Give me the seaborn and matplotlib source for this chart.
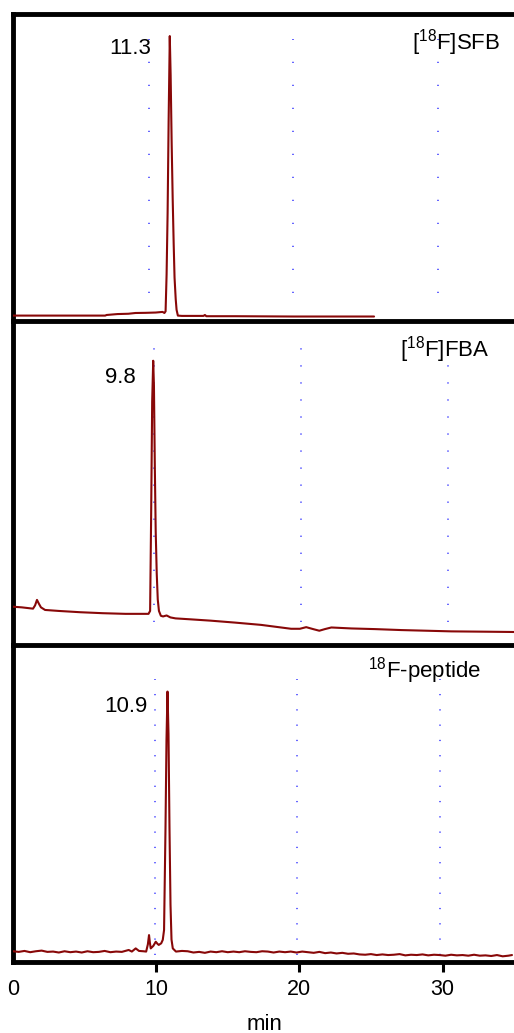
import numpy as np
import pandas as pd
import matplotlib
matplotlib.use("Agg")
import matplotlib.pyplot as plt
import seaborn as sns

# ---------------- data ----------------
# Panel 1: [18F]SFB  (time in min, signal in % of panel height)
sfb_time = [0.63, 3.0, 5.5, 7.0, 7.1, 7.85, 8.6, 9.1, 9.8, 10.5, 10.97, 11.1,
            11.18, 11.25, 11.32, 11.39, 11.47, 11.53, 11.6, 11.67, 11.74, 11.8,
            11.88, 11.94, 12.03, 12.3, 13.0, 13.8, 13.9, 14.0, 16.0, 20.0, 25.6]
sfb_signal = [1.6, 1.6, 1.6, 1.6, 1.8, 2.1, 2.2, 2.45, 2.5, 2.6, 2.8, 2.45,
              3.0, 15, 35, 65, 92.8, 80, 58, 40, 25, 14,
              7, 3.5, 1.6, 1.5, 1.5, 1.5, 1.8, 1.4, 1.4, 1.3, 1.3]

# Panel 2: [18F]FBA
fba_time = [0.40, 1.0, 1.76, 1.9, 2.03, 2.15, 2.3, 2.58, 3.5, 4.97, 6.5, 8.04,
            9.0, 9.61, 9.72, 9.79, 9.86, 9.93, 9.98, 10.04, 10.1, 10.17, 10.24,
            10.32, 10.45, 10.6, 10.84, 11.1, 11.45, 12.5, 13.84, 15.5, 17.26,
            19.3, 19.9, 20.33, 20.8, 21.22, 21.6, 22.04, 23.4, 25.0, 26.8,
            28.5, 30.2, 32.5, 34.6]
fba_signal = [11.8, 11.6, 11.2, 12.2, 13.9, 12.8, 11.6, 10.8, 10.5, 10.1, 9.8, 9.6,
              9.6, 9.6, 10.5, 40, 75, 87.6, 80, 55, 35, 22, 14,
              10.5, 9.0, 8.8, 9.1, 8.5, 8.2, 7.9, 7.5, 6.9, 6.2,
              5.0, 5.0, 5.5, 4.9, 4.4, 4.9, 5.4, 5.1, 4.9, 4.6,
              4.4, 4.2, 4.1, 4.0]

# Panel 3: 18F-peptide
pep_time = [0.0, 0.4, 0.8, 1.2, 1.6, 2.0, 2.4, 2.8, 3.2, 3.6, 4.0, 4.4, 4.8,
            5.2, 5.6, 6.0, 6.4, 6.8, 7.2, 7.6, 8.08, 8.3, 8.57, 8.8, 9.1, 9.3,
            9.42, 9.5, 9.56, 9.62, 9.8, 9.97, 10.1, 10.18, 10.35, 10.46, 10.55,
            10.65, 10.72, 10.79, 10.86, 10.93, 11.0, 11.07, 11.16, 11.38, 11.8,
            12.2, 12.6, 13.0, 13.4, 13.8, 14.2, 14.6, 15.0, 15.4, 15.8, 16.2,
            16.6, 17.0, 17.4, 17.8, 18.2, 18.6, 19.0, 19.4, 19.8, 20.2, 20.6,
            21.0, 21.4, 21.8, 22.2, 22.6, 23.0, 23.4, 23.8, 24.2, 24.6, 25.0,
            25.4, 25.8, 26.2, 26.6, 27.0, 27.4, 27.8, 28.2, 28.6, 29.0, 29.4,
            29.8, 30.2, 30.6, 31.0, 31.4, 31.8, 32.2, 32.6, 33.0, 33.4, 33.8,
            34.2, 34.6, 34.85]
pep_signal = [3.3, 3.1, 3.4, 3.0, 3.3, 3.5, 3.1, 3.2, 2.9, 3.3, 3.0, 3.2, 2.9,
              3.3, 3.0, 3.1, 3.4, 3.0, 3.2, 3.1, 3.7, 3.2, 4.2, 3.4, 3.3, 3.2,
              5.5, 8.4, 6.0, 4.2, 5.0, 6.3, 5.6, 5.3, 5.8, 6.9, 10,
              42, 70, 85.3, 72, 42, 18, 7, 4.2, 3.2, 3.4,
              3.3, 2.9, 3.1, 2.8, 3.2, 3.0, 3.3, 3.0, 3.2, 3.0, 3.3,
              3.1, 3.0, 3.3, 3.2, 2.9, 3.2, 3.0, 3.2, 2.9, 3.2, 3.0,
              2.8, 3.1, 2.7, 2.9, 2.6, 2.8, 2.5, 2.6, 2.3, 2.2, 2.4,
              2.1, 2.3, 2.1, 2.2, 2.4, 2.0, 2.2, 2.1, 2.3, 2.0, 2.2,
              2.1, 1.9, 2.2, 2.0, 2.1, 1.9, 2.2, 1.9, 2.0, 1.8, 2.1,
              1.7, 1.9, 2.1]

panel_names = [r"[$\mathregular{^{18}}$F]SFB", r"[$\mathregular{^{18}}$F]FBA",
               r"$\mathregular{^{18}}$F-peptide"]
peak_labels = ["11.3", "9.8", "10.9"]
x_ticks = [0, 10, 20, 30]
x_ticklabels = ["0", "10", "20", "30"]
x_label = "min"

# ---------------- style ----------------
sns.set_style("white")
plt.rcParams["font.family"] = ["Liberation Sans", "DejaVu Sans"]
plt.rcParams["mathtext.fontset"] = "custom"
plt.rcParams["mathtext.rm"] = "Liberation Sans"
plt.rcParams["lines.scale_dashes"] = False
plt.rcParams["text.color"] = "black"
plt.rcParams["axes.labelcolor"] = "black"
plt.rcParams["xtick.color"] = "black"

W, H = 514, 1033
fig = plt.figure(figsize=(W / 100, H / 100), dpi=100)

def px_axes(left, top, right, bottom):
    return fig.add_axes([left / W, 1 - bottom / H, (right - left) / W, (bottom - top) / H])

# panel geometry (pixels)
panels = [
    dict(top=14.0, bottom=320.5, xlim=(0.625, 35.42), grid=[10, 20, 30],
         gy=(293.0, 40.0, 23.0), time=sfb_time, sig=sfb_signal),
    dict(top=320.5, bottom=645.0, xlim=(0.40, 34.59), grid=[10, 20, 30],
         gy=(621.7, 349.3, 17.03), time=fba_time, sig=fba_signal),
    dict(top=645.0, bottom=961.7, xlim=(0.0, 35.13), grid=[9.9, 19.85, 29.85],
         gy=(955.0, 680.0, 15.28), time=pep_time, sig=pep_signal),
]

line_color = "#880808"
axes = []
for i, p in enumerate(panels):
    ax = px_axes(13, p["top"], W + 2, p["bottom"])
    axes.append(ax)
    ax.set_xlim(*p["xlim"])
    ax.set_ylim(0, 100)
    # dotted blue grid lines
    gb, gt, gs = p["gy"]
    hgt = p["bottom"] - p["top"]
    ymin = (p["bottom"] - gb) / hgt
    ymax = (p["bottom"] - gt) / hgt + 0.003
    off = gs * 72 / 100 - 0.9
    for gx in p["grid"]:
        ax.axvline(gx, ymin=ymin, ymax=ymax, color="#3a3aff", lw=1.1,
                   linestyle=(0, (0.9, off)), zorder=1)
    df = pd.DataFrame({"t": p["time"], "s": p["sig"]})
    sns.lineplot(data=df, x="t", y="s", ax=ax, color=line_color, lw=1.5,
                 sort=False, estimator=None, zorder=3)
    ax.set_xlabel("")
    ax.set_ylabel("")
    ax.set_yticks([])
    ax.spines["right"].set_visible(False)
    for side in ["top", "left"]:
        ax.spines[side].set_visible(True)
        ax.spines[side].set_linewidth(3.5)
        ax.spines[side].set_color("black")
        ax.spines[side].set_capstyle("projecting")
    if i < 2:
        ax.spines["bottom"].set_visible(False)
        ax.set_xticks([])
    else:
        ax.spines["bottom"].set_visible(True)
        ax.spines["bottom"].set_linewidth(3.5)
        ax.spines["bottom"].set_color("black")
        ax.spines["bottom"].set_capstyle("projecting")
        ax.set_xticks(x_ticks)
        ax.set_xticklabels(x_ticklabels)
        ax.tick_params(axis="x", direction="out", length=7, width=2.2,
                       pad=5.5, labelsize=15.5, colors="black", bottom=True)
        ax.xaxis.get_major_ticks()[0].tick1line.set_visible(False)
        ax.set_xlabel(x_label, fontsize=16, color="black")
        ax.xaxis.label.set_va("baseline")
        ax.xaxis.set_label_coords(0.5, -(1029.7 - 961.7) / hgt)
    ax.patch.set_alpha(0)

# annotations (positions in pixels)
label_pos = [(151.5, 54.0), (136.0, 383.3), (147.0, 712.3)]
name_pos = [(411.5, 49.3), (400.5, 356.7), (368.0, 677.3)]
for i in range(3):
    fig.text(label_pos[i][0] / W, 1 - label_pos[i][1] / H, peak_labels[i],
             ha="right", va="baseline", fontsize=16, color="black")
    fig.text(name_pos[i][0] / W, 1 - name_pos[i][1] / H, panel_names[i],
             ha="left", va="baseline", fontsize=16, color="black")

fig.savefig("out.png", dpi=100)
